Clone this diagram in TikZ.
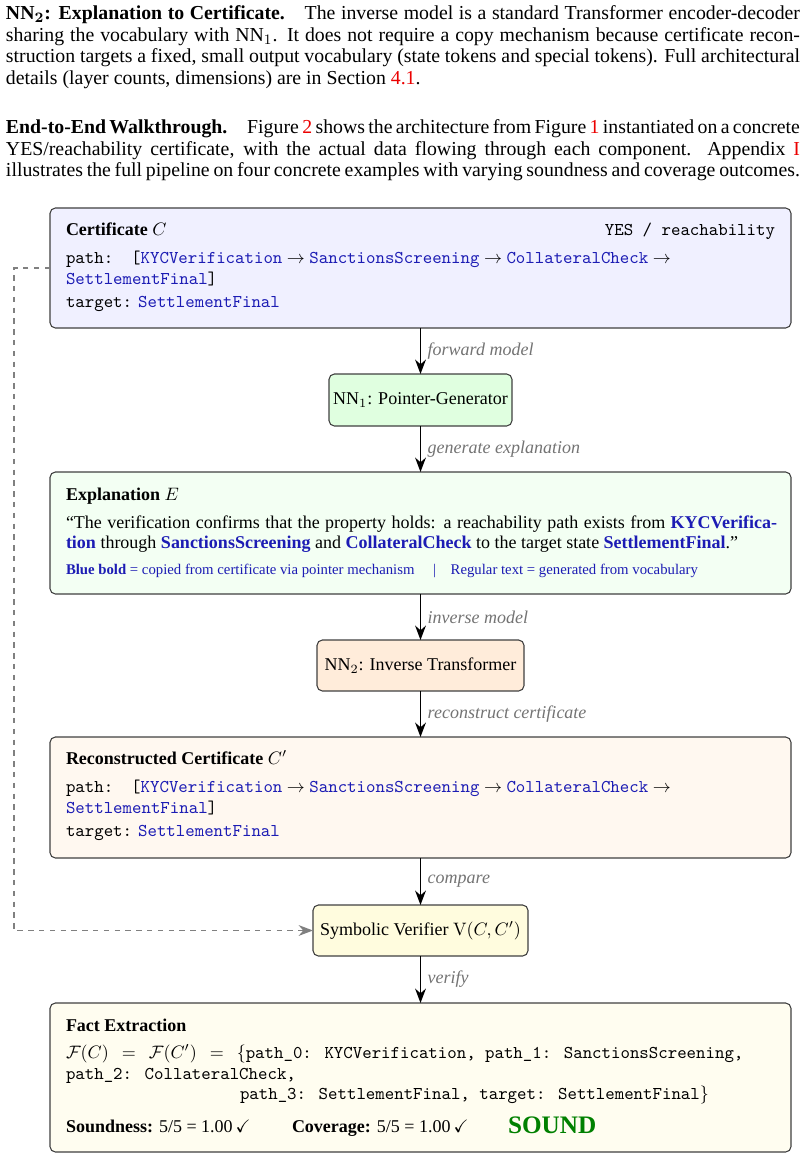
\documentclass[tikz,border=0pt]{standalone}
\usepackage{amssymb}
\usepackage[no-math]{fontspec}
\setmainfont{Liberation Serif}
\usetikzlibrary{arrows.meta}
\newlength\pxu
\setlength\pxu{0.5556pt}
\definecolor{tokblue}{RGB}{28,28,180}
\definecolor{refred}{RGB}{235,0,0}
\definecolor{soundgreen}{RGB}{0,128,0}
\definecolor{certfill}{RGB}{240,240,255}
\definecolor{nnonefill}{RGB}{224,255,224}
\definecolor{explfill}{RGB}{243,255,243}
\definecolor{nntwofill}{RGB}{255,236,218}
\definecolor{reconfill}{RGB}{255,248,240}
\definecolor{verfill}{RGB}{255,252,222}
\definecolor{factfill}{RGB}{255,253,240}
\newcommand\tok[1]{\textcolor{tokblue}{\texttt{#1}}}
\newcommand\btok[1]{\textcolor{tokblue}{\textbf{#1}}}
\newcommand\rref[1]{\textcolor{refred}{#1}}
\newcommand\fullline[2]{\makebox[#1\pxu][s]{#2}}
\begin{document}
\begin{tikzpicture}[x=\pxu,y=-\pxu,
  every node/.style={inner sep=0pt, outer sep=0pt, font=\fontsize{10}{12}\selectfont},
  txt/.style={anchor=base west},
  para/.style={anchor=base west, font=\fontsize{11}{13}\selectfont},
  panel/.style={draw=black!75, line width=0.6pt, rounded corners=3pt, anchor=north west, minimum width=741\pxu},
  unit/.style={draw=black!75, line width=0.6pt, rounded corners=3pt},
  flow/.style={-{Stealth[length=8pt,width=6pt]}, line width=0.9pt},
  lbl/.style={font=\fontsize{10}{12}\selectfont\itshape, text=black!55, anchor=west, xshift=4pt},
  dashline/.style={dashed, draw=black!50, line width=0.7pt, -{Stealth[length=8pt,width=6pt]}}]
\useasboundingbox (0,0) rectangle (808,1160);

% ---- paragraphs ----
\node[para] (p1a) at (6,20) {\fullline{794}{\textbf{NN$_{\mathbf{2}}$: Explanation to Certificate.}\quad The inverse model is a standard Transformer encoder-decoder}};
\node[para] (p1b) at (6,42) {\fullline{794}{sharing the vocabulary with NN$_1$. It does not require a copy mechanism because certificate recon-}};
\node[para] (p1c) at (6,63) {\fullline{794}{struction targets a fixed, small output vocabulary (state tokens and special tokens). Full architectural}};
\node[para] (p1d) at (6,85) {details (layer counts, dimensions) are in Section \rref{4.1}.};
\node[para] (p2a) at (6,134) {\fullline{794}{\textbf{End-to-End Walkthrough.}\quad Figure \rref{2} shows the architecture from Figure \rref{1} instantiated on a concrete}};
\node[para] (p2b) at (6,156) {\fullline{794}{YES/reachability certificate, with the actual data flowing through each component.\ \ Appendix \rref{I}}};
\node[para] (p2c) at (6,177) {\fullline{794}{illustrates the full pipeline on four concrete examples with varying soundness and coverage outcomes.}};

% ---- certificate ----
\node[panel, fill=certfill, minimum height=120\pxu] (cert) at (50,208) {};
\node[txt] (certt) at (66,235) {\textbf{Certificate} $C$};
\node[anchor=base east] (certk) at (775,235) {\texttt{YES / reachability}};
\node[txt] (certp) at (66,263) {\texttt{path:}\hspace{10pt}\texttt{[}\tok{KYCVerification} $\rightarrow$ \tok{SanctionsScreening} $\rightarrow$ \tok{CollateralCheck} $\rightarrow$};
\node[txt] (certq) at (66,284) {\tok{SettlementFinal}\texttt{]}};
\node[txt] (certg) at (66,307) {\texttt{target:} \tok{SettlementFinal}};

% ---- NN1 ----
\node[unit, fill=nnonefill, minimum width=183\pxu, minimum height=52\pxu] (nn1) at (420.5,400) {NN$_1$: Pointer-Generator};

% ---- explanation ----
\node[panel, fill=explfill, minimum height=122\pxu] (expl) at (50,472) {};
\node[txt] (explt) at (66,500) {\textbf{Explanation} $E$};
\node[txt] (expla) at (66,528) {\fullline{711}{``The verification confirms that the property holds: a reachability path exists from \btok{KYCVerifica-}}};
\node[txt] (explb) at (66,548) {\btok{tion} through \btok{SanctionsScreening} and \btok{CollateralCheck} to the target state \btok{SettlementFinal}.''};
\node[txt] (expll) at (66,574) {\fontsize{8.2}{10}\selectfont\color{tokblue}\textbf{Blue bold} = copied from certificate via pointer mechanism\quad\ |\quad Regular text = generated from vocabulary};

% ---- NN2 ----
\node[unit, fill=nntwofill, minimum width=207\pxu, minimum height=51\pxu] (nn2) at (420.5,665.5) {NN$_2$: Inverse Transformer};

% ---- reconstructed ----
\node[panel, fill=reconfill, minimum height=121\pxu] (recon) at (50,737) {};
\node[txt] (recont) at (66,764) {\textbf{Reconstructed Certificate} $C'$};
\node[txt] (reconp) at (66,792) {\texttt{path:}\hspace{10pt}\texttt{[}\tok{KYCVerification} $\rightarrow$ \tok{SanctionsScreening} $\rightarrow$ \tok{CollateralCheck} $\rightarrow$};
\node[txt] (reconq) at (66,813) {\tok{SettlementFinal}\texttt{]}};
\node[txt] (recong) at (66,836) {\texttt{target:} \tok{SettlementFinal}};

% ---- verifier ----
\node[unit, fill=verfill, minimum width=215\pxu, minimum height=51\pxu] (ver) at (420.5,930.5) {Symbolic Verifier $\mathrm{V}(C, C')$};

% ---- fact extraction ----
\node[panel, fill=factfill, minimum height=149\pxu] (fact) at (50,1003) {};
\node[txt] (factt) at (66,1031) {\textbf{Fact Extraction}};
\node[txt] (facta) at (66,1058) {$\mathcal{F}(C)\;\,=\;\,\mathcal{F}(C')\;\,=\;\,\{$\texttt{path\_0: KYCVerification, path\_1: SanctionsScreening,}};
\node[txt] (factb) at (66,1079) {\texttt{path\_2: CollateralCheck,}};
\node[txt] (factc) at (240,1099) {\texttt{path\_3: SettlementFinal, target: SettlementFinal}$\}$};
\node[txt] (facts) at (66,1132) {\textbf{Soundness:} 5/5 = 1.00\,$\checkmark$};
\node[txt] (factv) at (292,1132) {\textbf{Coverage:} 5/5 = 1.00\,$\checkmark$};
\node[txt] (factw) at (508,1133) {\fontsize{14}{16}\selectfont\bfseries\color{soundgreen}SOUND};

% ---- connectors ----
\draw[flow] (cert.south) -- node[lbl] {forward model} (nn1.north);
\draw[flow] (nn1.south) -- node[lbl] {generate explanation} (expl.north);
\draw[flow] (expl.south) -- node[lbl] {inverse model} (nn2.north);
\draw[flow] (nn2.south) -- node[lbl] {reconstruct certificate} (recon.north);
\draw[flow] (recon.south) -- node[lbl] {compare} (ver.north);
\draw[flow] (ver.south) -- node[lbl] {verify} (fact.north);
\draw[dashline] (cert.west) -- ++(-36,0) |- (ver.west);
\end{tikzpicture}
\end{document}
